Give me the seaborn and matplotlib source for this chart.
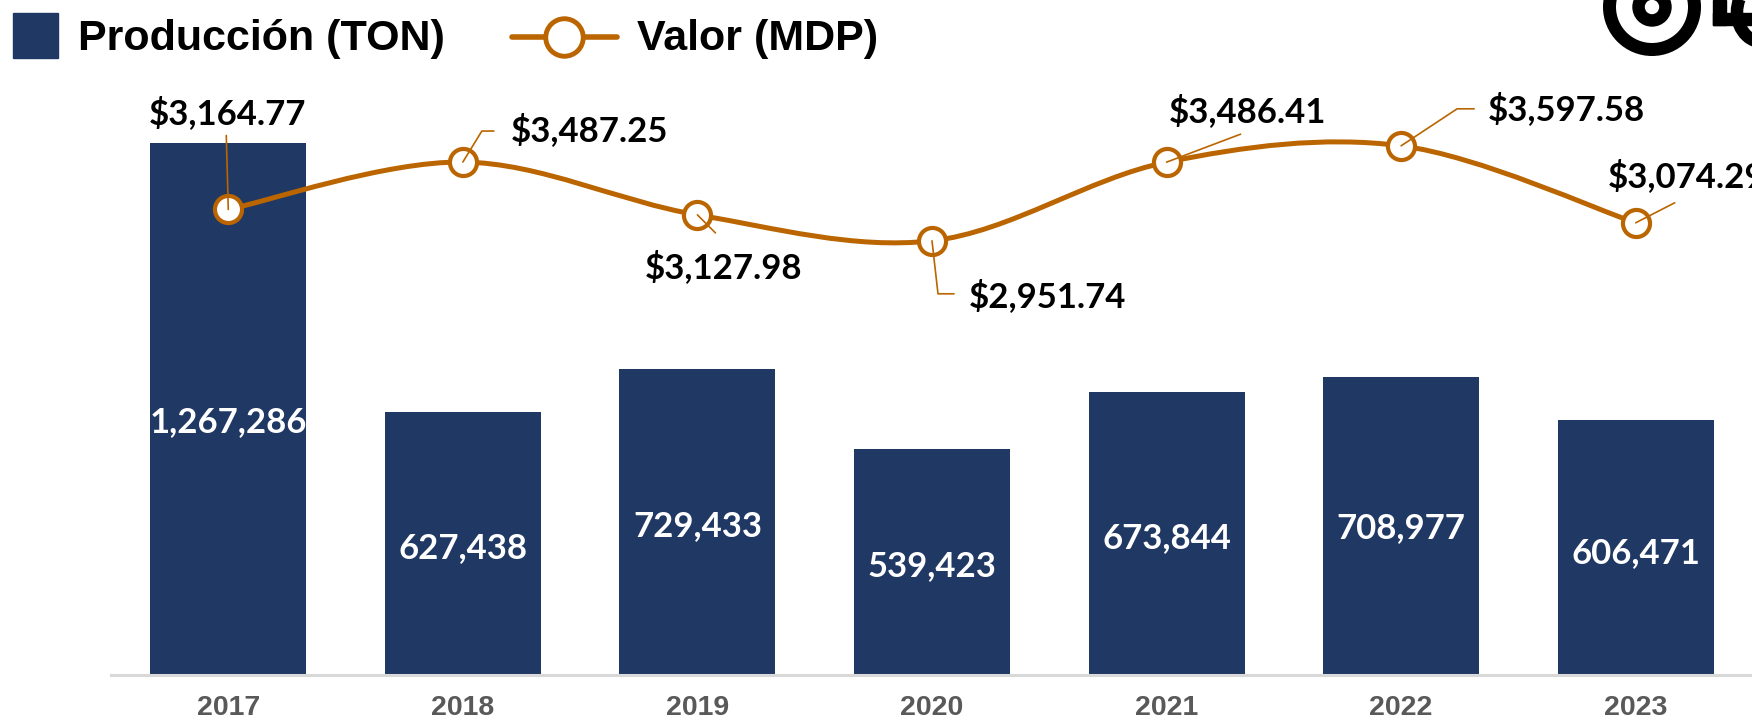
import numpy as np
import pandas as pd
import matplotlib
matplotlib.use("Agg")
import matplotlib.pyplot as plt
import seaborn as sns
from matplotlib.path import Path
from matplotlib.patches import PathPatch, Rectangle, Circle, Arc
from matplotlib.lines import Line2D
from matplotlib.transforms import IdentityTransform

# ---- data ----
years = ["2017", "2018", "2019", "2020", "2021", "2022", "2023"]
produccion = [1267286, 627438, 729433, 539423, 673844, 708977, 606471]
valor = [3164.77, 3487.25, 3127.98, 2951.74, 3486.41, 3597.58, 3074.29]
prod_labels = ["1,267,286", "627,438", "729,433", "539,423", "673,844", "708,977", "606,471"]
valor_labels = ["$3,164.77", "$3,487.25", "$3,127.98", "$2,951.74", "$3,486.41", "$3,597.58", "$3,074.29"]

BAR = "#203864"
LINE = "#BA6500"
W, H = 1752, 721

sns.set_theme(style="white")
plt.rcParams["font.family"] = ["Liberation Sans", "DejaVu Sans"]

fig = plt.figure(figsize=(W / 100, H / 100), dpi=100)
ax = fig.add_axes([111 / W, 46 / H, 1642 / W, 585 / H])

df = pd.DataFrame({"year": years, "prod": produccion, "valor": valor})
sns.barplot(data=df, x="year", y="prod", color=BAR, saturation=1, width=0.665,
            ax=ax, linewidth=0)
ax.set_xlim(-0.5, 6.5)
ax.set_ylim(0, 1393530)
ax.set_yticks([])
ax.set_xlabel("")
ax.set_ylabel("")
for s in ["top", "left", "right"]:
    ax.spines[s].set_visible(False)
ax.spines["bottom"].set_color("#d9d9d9")
ax.spines["bottom"].set_linewidth(2.2)
ax.tick_params(axis="x", length=0, pad=14.5, labelsize=20.5, labelcolor="#595959")
for lbl in ax.get_xticklabels():
    lbl.set_fontweight("bold")

# bar value labels (pixel nudge downward per label)
bar_nudge = [13, 5, 4, 4, 4, 2, 5]
for i, (v, t) in enumerate(zip(produccion, prod_labels)):
    ax.annotate(t, xy=(i, v / 2), xytext=(0, -bar_nudge[i]), textcoords="offset pixels",
                ha="center", va="center", color="white",
                fontsize=25, fontweight="bold", family="Lato")

# ---- line on secondary axis ----
ax2 = ax.twinx()
ax2.set_ylim(0, 3977)
ax2.set_yticks([])
for s in ax2.spines.values():
    s.set_visible(False)

xs = np.arange(len(valor), dtype=float)
pts = np.column_stack([xs, valor])
n = len(pts)
verts = [pts[0]]
codes = [Path.MOVETO]
for i in range(n - 1):
    p0 = pts[max(i - 1, 0)]
    p1 = pts[i]
    p2 = pts[i + 1]
    p3 = pts[min(i + 2, n - 1)]
    c1 = p1 + (p2 - p0) / 6.0
    c2 = p2 - (p3 - p1) / 6.0
    verts += [c1, c2, p2]
    codes += [Path.CURVE4] * 3
ax2.add_patch(PathPatch(Path(verts, codes), fill=False, edgecolor=LINE,
                        lw=3.6, transform=ax2.transData, zorder=3,
                        capstyle="round", joinstyle="round"))
sns.scatterplot(x=xs, y=valor, ax=ax2, s=19.5 ** 2, color="white",
                edgecolor=LINE, linewidth=3, zorder=4, legend=False)

# leader lines (pixel offsets: right, down) and label placement
leaders = [
    [(0, 0), (-2, -74)],
    [(0, 0), (19, -31), (31, -31)],
    [(0, 0), (18, 18)],
    [(0, 0), (6, 53), (22, 53)],
    [(0, 0), (74, -28)],
    [(0, 0), (56, -37), (73, -37)],
    [(0, 0), (39, -20)],
]
label_off = [(-1, -96, "center"), (48, -32, "left"), (26, 52, "center"),
             (37, 55, "left"), (81, -51, "center"), (87, -37, "left"),
             (-28, -47, "left")]

for i, v in enumerate(valor):
    px, py = ax2.transData.transform((i, v))
    lx = [px + dx for dx, dy in leaders[i]]
    ly = [py - dy for dx, dy in leaders[i]]
    fig.add_artist(Line2D(lx, ly, transform=IdentityTransform(), color=LINE,
                          lw=1.2, zorder=5))
    dx, dy, ha = label_off[i]
    ax2.annotate(valor_labels[i], xy=(i, v), xytext=(dx, -dy),
                 textcoords="offset pixels", ha=ha, va="center",
                 fontsize=25, fontweight="bold", family="Lato", color="black",
                 annotation_clip=False, zorder=6)

# ---- legend (manual) ----
fig.add_artist(Rectangle((13 / W, 1 - 58 / H), 45 / W, 45 / H,
                         transform=fig.transFigure, color=BAR))
fig.text(78 / W, 1 - 39 / H, "Producción (TON)", fontsize=31, fontweight="bold",
         va="center", ha="left", color="black")
fig.add_artist(Line2D([512 / W, 617 / W], [1 - 37 / H] * 2, transform=fig.transFigure,
                      color=LINE, lw=4))
fig.add_artist(Line2D([564 / W], [1 - 37 / H], transform=fig.transFigure,
                      marker="o", ms=27, mfc="white", mec=LINE, mew=3.5, ls="none"))
fig.text(637 / W, 1 - 39 / H, "Valor (MDP)", fontsize=31, fontweight="bold",
         va="center", ha="left", color="black")

# ---- logo fragment (top right) ----
cx, cy = 1652, H - 7
fig.add_artist(Circle((cx, cy), 42.5, fill=False, lw=13 * 0.72, ec="black",
                      transform=IdentityTransform()))
fig.add_artist(Circle((cx, cy), 19, color="black", transform=IdentityTransform()))
fig.add_artist(Circle((cx, cy), 6.5, color="white", transform=IdentityTransform()))
fig.add_artist(Rectangle((1713, H - 25), 13, 25, color="black", transform=IdentityTransform()))
fig.add_artist(Rectangle((1713, H - 25), 40, 12, color="black", transform=IdentityTransform()))
fig.add_artist(Arc((1762, H - 12), 50, 60, theta1=150, theta2=260, lw=9,
                   color="black", transform=IdentityTransform()))

fig.savefig("out.png", dpi=100)
